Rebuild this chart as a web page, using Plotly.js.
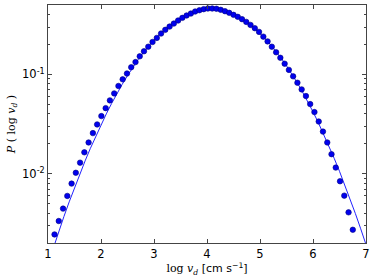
<!DOCTYPE html>
<html>
<head>
<meta charset="utf-8">
<script src="https://cdn.plot.ly/plotly-3.0.1.min.js"></script>
<style>html,body{margin:0;padding:0;background:#fff;}#chart{width:374px;height:280px;}</style>
</head>
<body>
<div id="chart"></div>
<script>
// Measured data points (log v_d, P)
const dataX = [1.123,1.203,1.284,1.364,1.445,1.525,1.605,1.686,1.766,1.847,1.927,2.007,2.088,2.168,2.249,2.329,2.409,2.490,2.570,2.651,2.731,2.811,2.892,2.972,3.053,3.133,3.213,3.294,3.374,3.455,3.535,3.615,3.696,3.776,3.857,3.937,4.017,4.098,4.178,4.259,4.339,4.419,4.500,4.580,4.661,4.741,4.821,4.902,4.982,5.063,5.143,5.223,5.304,5.384,5.465,5.545,5.625,5.706,5.786,5.867,5.947,6.027,6.108,6.188,6.269,6.349,6.429,6.510,6.590,6.671,6.751];
const dataY = [0.00244,0.00333,0.00444,0.00596,0.00793,0.0102,0.0129,0.0164,0.0206,0.0256,0.0313,0.0380,0.0457,0.0547,0.0643,0.0764,0.0891,0.102,0.118,0.133,0.152,0.171,0.190,0.212,0.233,0.258,0.281,0.303,0.325,0.349,0.371,0.392,0.410,0.430,0.443,0.454,0.461,0.461,0.458,0.447,0.433,0.417,0.398,0.380,0.360,0.338,0.315,0.292,0.268,0.240,0.215,0.190,0.167,0.147,0.128,0.111,0.0955,0.0824,0.0706,0.0605,0.0502,0.0417,0.0335,0.0265,0.0206,0.0157,0.0115,0.00838,0.00600,0.00407,0.00272];

// Model curve
const curveX = [1.0,1.1,1.2,1.3,1.4,1.5,1.6,1.7,1.8,1.9,2.0,2.1,2.2,2.3,2.4,2.5,2.6,2.7,2.8,2.9,3.0,3.1,3.2,3.3,3.4,3.5,3.6,3.7,3.8,3.9,4.0,4.1,4.2,4.3,4.4,4.5,4.6,4.7,4.8,4.9,5.0,5.1,5.2,5.3,5.4,5.5,5.6,5.7,5.8,5.9,6.0,6.1,6.2,6.3,6.4,6.5,6.6,6.7,6.8,6.9,7.0];
const curveY = [0.001226,0.001792,0.002588,0.003690,0.005194,0.007223,0.009915,0.01344,0.01799,0.02378,0.03103,0.04000,0.05089,0.06394,0.07937,0.09725,0.1177,0.1406,0.1659,0.1933,0.2223,0.2526,0.2834,0.3139,0.3433,0.3707,0.3954,0.4164,0.4330,0.4446,0.4508,0.4514,0.4462,0.4356,0.4200,0.3999,0.3759,0.3489,0.3197,0.2894,0.2587,0.2283,0.1989,0.1712,0.1455,0.1221,0.1011,0.08277,0.06685,0.05333,0.04201,0.03268,0.02510,0.01905,0.01426,0.01055,0.007700,0.005554,0.003956,0.002781,0.001931];

const xTicks = [1,2,3,4,5,6,7];
const yTicks = [0.01, 0.1];
const yTickText = ['10<sup>-2</sup>','10<sup>-1</sup>'];
const yMinor = [0.002,0.003,0.004,0.005,0.006,0.007,0.008,0.009,0.02,0.03,0.04,0.05,0.06,0.07,0.08,0.09,0.2,0.3,0.4,0.5];

const traces = [
  {x: curveX, y: curveY, mode: 'lines', type: 'scatter',
   line: {color: '#2222ff', width: 1}, hoverinfo: 'skip'},
  {x: dataX, y: dataY, mode: 'markers', type: 'scatter',
   marker: {color: '#0000ee', size: 5.5, line: {color: '#000080', width: 0.6}}}
];

const axisCommon = {
  showline: true, mirror: 'ticks', linecolor: '#444', linewidth: 1,
  ticks: 'inside', ticklen: 4, tickcolor: '#444', tickwidth: 1,
  showgrid: false, zeroline: false,
  tickfont: {family: 'DejaVu Sans', size: 11.5, color: '#000'}
};

const layout = {
  width: 374, height: 280,
  margin: {l: 48, r: 8, t: 5, b: 37},
  paper_bgcolor: '#fff', plot_bgcolor: '#fff',
  showlegend: false,
  xaxis: Object.assign({}, axisCommon, {
    range: [1, 7], tickvals: xTicks, ticktext: xTicks.map(String),
    title: {text: '<span style="font-family:DejaVu Serif">log </span><i style="font-family:DejaVu Serif">v</i><sub style="font-family:DejaVu Serif"><i>d</i></sub> [cm s<sup>−1</sup>]',
            font: {family: 'DejaVu Sans', size: 11, color: '#000'}, standoff: 3}
  }),
  yaxis: Object.assign({}, axisCommon, {
    type: 'log', range: [Math.log10(0.002), Math.log10(0.5)],
    tickvals: yTicks, ticktext: yTickText,
    minor: {tickvals: yMinor, ticks: 'inside', ticklen: 2, tickcolor: '#444', showgrid: false},
    title: {text: '<i>P</i> ( log <i>v</i><sub><i>d</i></sub> )',
            font: {family: 'DejaVu Serif', size: 11, color: '#000'}, standoff: 4}
  })
};

Plotly.newPlot('chart', traces, layout, {displayModeBar: false, staticPlot: true});
</script>
</body>
</html>
